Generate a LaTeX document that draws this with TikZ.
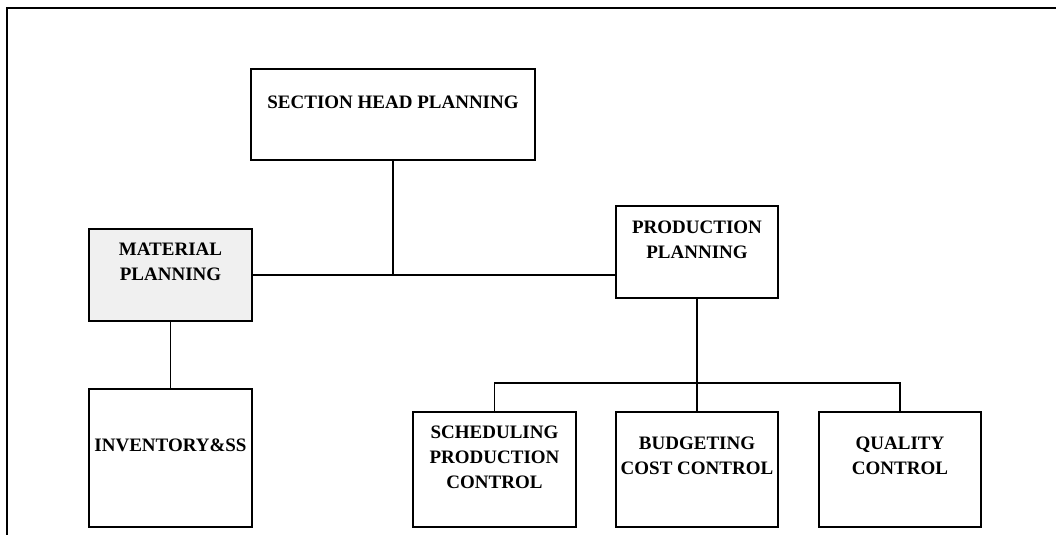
\documentclass[tikz,border=0pt]{standalone}
\usepackage{fontspec}
\setmainfont{Liberation Serif}
\begin{document}
\begin{tikzpicture}[x=0.75pt,y=-0.75pt,
  orgbox/.style={draw=black,line width=1.2pt,fill=white,inner sep=0pt},
  boxtext/.style={align=center,inner sep=0pt,
    font=\fontsize{14.25}{18.75}\selectfont\bfseries},
  link/.style={line width=1.2pt}]
\useasboundingbox (0,0) rectangle (1056,535);

% outer frame (open at right and bottom)
\draw[line width=1.6pt] (1056,8) -- (7,8) -- (7,535);

% boxes
\node[orgbox,minimum width=213pt,minimum height=68.25pt] (sec) at (393,114.5) {};
\node[orgbox,fill={rgb,255:red,240;green,240;blue,240},minimum width=122.25pt,minimum height=69pt] (mat) at (170.5,275) {};
\node[orgbox,minimum width=121.5pt,minimum height=69pt] (pp) at (697,252) {};
\node[orgbox,minimum width=122.25pt,minimum height=103.5pt] (inv) at (170.5,458) {};
\node[orgbox,minimum width=122.25pt,minimum height=86.25pt] (sch) at (494.5,469.5) {};
\node[orgbox,minimum width=121.5pt,minimum height=86.25pt] (bud) at (697,469.5) {};
\node[orgbox,minimum width=121.5pt,minimum height=86.25pt] (qc) at (900,469.5) {};

% box labels
\node[boxtext] (sec-t) at (393,102) {SECTION HEAD PLANNING};
\node[boxtext] (mat-t) at (170.5,262) {MATERIAL\\PLANNING};
\node[boxtext] (pp-t) at (697,239.5) {PRODUCTION\\PLANNING};
\node[boxtext] (inv-t) at (170.5,445) {INVENTORY\&SS};
\node[boxtext] (sch-t) at (494.5,457) {SCHEDULING\\PRODUCTION\\CONTROL};
\node[boxtext] (bud-t) at (697,455.5) {BUDGETING\\COST CONTROL};
\node[boxtext] (qc-t) at (900,455.5) {QUALITY\\CONTROL};

% connectors
\coordinate (bus) at (697,383);
\draw[link] (mat.east) -- (mat.east -| pp.west);
\draw[link] (sec.south) -- (sec.south |- mat.east);
\draw[link] (mat.south) -- (inv.north);
\draw[link] (pp.south) -- (bus);
\draw[link] (sch.north) -- (sch.north |- bus) -- (qc.north |- bus) -- (qc.north);
\draw[link] (bud.north) -- (bus);
\end{tikzpicture}
\end{document}
